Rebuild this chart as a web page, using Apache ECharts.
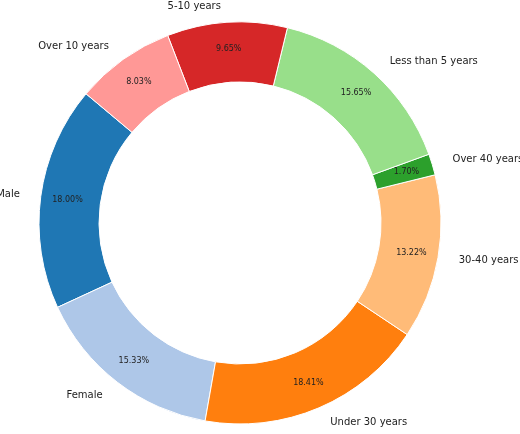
<!DOCTYPE html>
<html><head><meta charset="utf-8">
<script src="https://cdn.jsdelivr.net/npm/echarts@6/dist/echarts.min.js"></script>
<style>html,body{margin:0;padding:0;background:#fff}#c{width:520px;height:434px}</style>
</head><body><div id="c"></div>
<script>
const categories = ["Male","Female","Under 30 years","30-40 years","Over 40 years","Less than 5 years","5-10 years","Over 10 years"];
const values = [18.00,15.33,18.41,13.22,1.70,15.65,9.65,8.03];
const colors = ["#1f77b4","#aec7e8","#ff7f0e","#ffbb78","#2ca02c","#98df8a","#d62728","#ff9896"];
const chart = echarts.init(document.getElementById('c'));
const data = categories.map((n,i)=>({name:n,value:values[i],itemStyle:{color:colors[i]}}));
const common = {type:'pie',center:[240,223],radius:[141,201],startAngle:140,clockwise:false,silent:true,animation:false,avoidLabelOverlap:false};
chart.setOption({
  series:[
    Object.assign({}, common, {
      data:data,
      itemStyle:{borderColor:'#fff',borderWidth:1},
      label:{position:'inside',formatter:p=>p.value.toFixed(2)+'%',fontSize:8,color:'#222',fontFamily:'DejaVu Sans'},
      labelLine:{show:false}
    }),
    Object.assign({}, common, {
      data:data.map(d=>({name:d.name,value:d.value})),
      itemStyle:{color:'transparent'},
      label:{position:'outside',formatter:'{b}',fontSize:10,color:'#222',fontFamily:'DejaVu Sans',overflow:'none',width:200,alignTo:'none'},
      labelLine:{show:false,length:16,length2:0}
    })
  ]
});
</script></body></html>
